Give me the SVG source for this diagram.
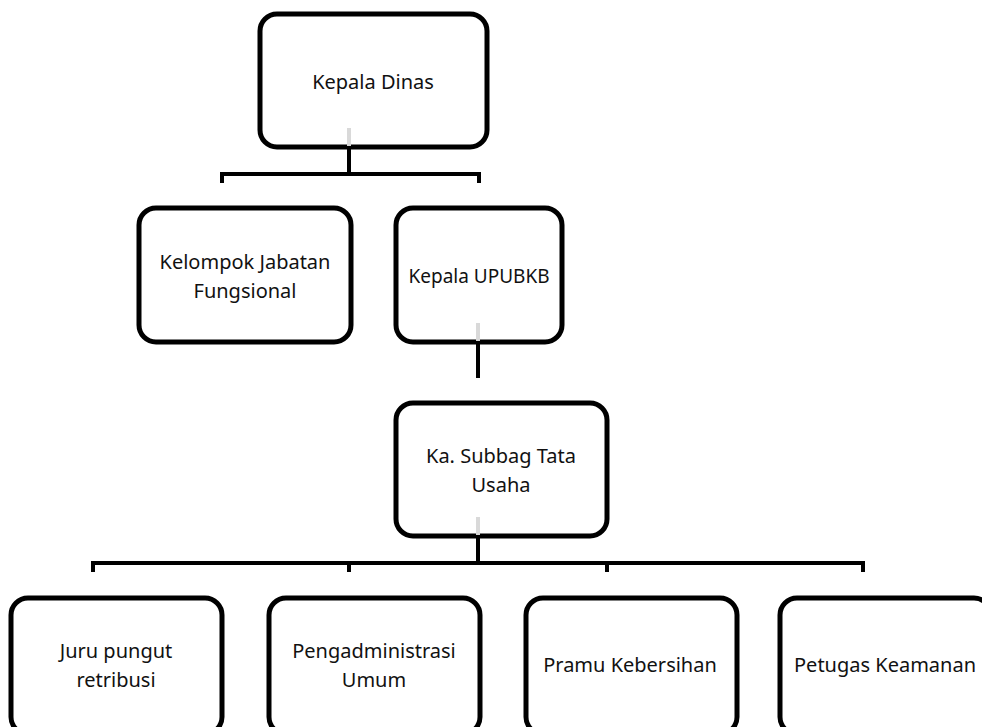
<svg xmlns="http://www.w3.org/2000/svg" width="982" height="727" viewBox="0 0 982 727">
<style>
.box{fill:#fff;stroke:#000;stroke-width:5;}
.t{font-family:"Noto Sans","Open Sans",sans-serif;font-size:20px;fill:#111;text-anchor:middle;}
.c{stroke:#000;stroke-width:4;fill:none;stroke-linecap:butt;}
.g{stroke:#d9d9d9;stroke-width:4;}
</style>
<rect width="982" height="727" fill="#fff"/>
<g id="kepala-dinas">
<rect class="box" x="260" y="14" width="227" height="133" rx="17"/>
<text class="t" x="373" y="89">Kepala Dinas</text>
<line class="g" x1="349" y1="128" x2="349" y2="146"/>
</g>
<g id="kelompok-jabatan">
<rect class="box" x="139" y="208" width="212" height="134" rx="17"/>
<text class="t" x="245" y="269">Kelompok Jabatan</text>
<text class="t" x="245" y="298">Fungsional</text>
</g>
<g id="kepala-upubkb">
<rect class="box" x="396" y="208" width="166" height="134" rx="17"/>
<text class="t" x="479" y="283" style="font-size:19px">Kepala UPUBKB</text>
<line class="g" x1="478" y1="323" x2="478" y2="341"/>
</g>
<g id="ka-subbag">
<rect class="box" x="396" y="403" width="211" height="133" rx="17"/>
<text class="t" x="501" y="463">Ka. Subbag Tata</text>
<text class="t" x="501" y="492">Usaha</text>
<line class="g" x1="478" y1="517" x2="478" y2="535"/>
</g>
<g id="juru-pungut">
<rect class="box" x="11" y="598" width="211" height="136" rx="17"/>
<text class="t" x="116" y="658">Juru pungut</text>
<text class="t" x="116" y="687">retribusi</text>
</g>
<g id="pengadministrasi">
<rect class="box" x="269" y="598" width="211" height="136" rx="17"/>
<text class="t" x="374" y="658">Pengadministrasi</text>
<text class="t" x="374" y="687">Umum</text>
</g>
<g id="pramu">
<rect class="box" x="526" y="598" width="211" height="136" rx="17"/>
<text class="t" x="630" y="672">Pramu Kebersihan</text>
</g>
<g id="petugas">
<rect class="box" x="780" y="598" width="211" height="136" rx="17"/>
<text class="t" x="885" y="672">Petugas Keamanan</text>
</g>
<g id="connectors">
<path class="c" d="M349 148 V174 M222 183 V174 H479 V183"/>
<path class="c" d="M478 343 V378"/>
<path class="c" d="M478 537 V563 M93 572 V563 H863 V572 M349 563 V572 M607 563 V572"/>
</g>
</svg>
